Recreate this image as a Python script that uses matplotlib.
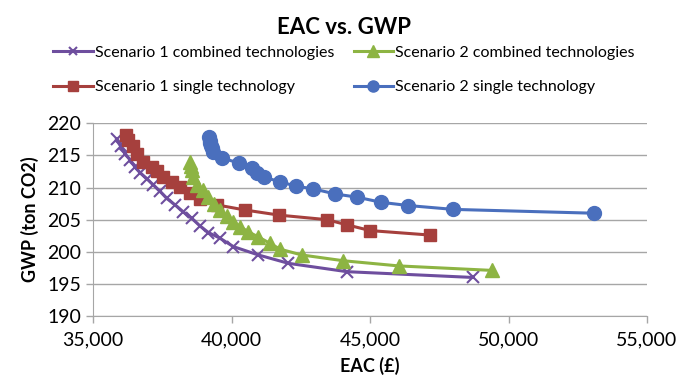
import matplotlib.pyplot as plt
from matplotlib.ticker import FuncFormatter, MultipleLocator

plt.rcParams['font.family'] = ['Lato', 'DejaVu Sans']

# Scenario 1 combined technologies
s1c_eac = [35850, 36000, 36156, 36337, 36517, 36698, 36940, 37178, 37420, 37663,
           37962, 38262, 38566, 38866, 39165, 39588, 40069, 40972, 42056, 44165, 48717]
s1c_gwp = [217.5, 216.4, 215.3, 214.3, 213.2, 212.3, 211.4, 210.4, 209.4, 208.3,
           207.3, 206.2, 205.2, 204.0, 203.0, 202.1, 200.8, 199.5, 198.2, 196.9, 196.0]

# Scenario 2 combined technologies
s2c_eac = [38504, 38530, 38566, 38623, 38746, 38985, 39165, 39371, 39588, 39830,
           40069, 40311, 40611, 40972, 41395, 41756, 42540, 44043, 46030, 49404]
s2c_gwp = [214.0, 213.3, 212.7, 211.7, 210.4, 209.6, 208.6, 207.5, 206.5, 205.5,
           204.7, 203.9, 203.1, 202.3, 201.3, 200.4, 199.5, 198.6, 197.8, 197.1]

# Scenario 1 single technology
s1s_eac = [36192, 36276, 36456, 36578, 36817, 37120, 37301, 37540, 37843, 38143,
           38504, 38866, 39469, 40491, 41731, 43443, 44165, 45007, 47175]
s1s_gwp = [218.2, 217.4, 216.4, 215.3, 214.0, 213.2, 212.5, 211.7, 210.9, 210.1,
           209.1, 208.2, 207.3, 206.5, 205.7, 205.0, 204.2, 203.3, 202.6]

# Scenario 2 single technology
s2s_eac = [39191, 39210, 39227, 39260, 39300, 39335, 39660, 40275, 40744, 40925,
           41178, 41756, 42334, 42948, 43743, 44538, 45405, 46380, 48006, 53100]
s2s_gwp = [217.8, 217.3, 216.9, 216.5, 216.1, 215.5, 214.6, 213.8, 213.0, 212.3,
           211.6, 210.9, 210.2, 209.8, 209.0, 208.5, 207.7, 207.2, 206.6, 206.0]

fig = plt.figure(figsize=(6.88, 3.76), dpi=100)
ax = fig.add_axes([0.1352, 0.1596, 0.8052, 0.5124])

l1, = ax.plot(s1c_eac, s1c_gwp, color='#6E4E9E', lw=2.2, marker='x', ms=8, mew=1.5,
              label='Scenario 1 combined technologies')
l3, = ax.plot(s1s_eac, s1s_gwp, color='#A6403D', lw=2.2, marker='s', ms=9,
              label='Scenario 1 single technology')
l2, = ax.plot(s2c_eac, s2c_gwp, color='#8DB443', lw=2.2, marker='^', ms=10,
              label='Scenario 2 combined technologies')
l4, = ax.plot(s2s_eac, s2s_gwp, color='#4A6FBD', lw=2.2, marker='o', ms=10,
              label='Scenario 2 single technology')

ax.set_xlim(35000, 55000)
ax.set_ylim(190, 220)
ax.xaxis.set_major_locator(MultipleLocator(5000))
ax.yaxis.set_major_locator(MultipleLocator(5))
ax.xaxis.set_major_formatter(FuncFormatter(lambda v, p: f'{int(v):,}'))
ax.grid(axis='y', color='#A6A6A6', lw=1)
ax.set_axisbelow(True)
for s in ['top', 'right']:
    ax.spines[s].set_visible(False)
for s in ['left', 'bottom']:
    ax.spines[s].set_color('#A6A6A6')
ax.tick_params(axis='both', colors='#A6A6A6', labelcolor='black', labelsize=14,
               length=5, width=1)
ax.tick_params(axis='x', pad=6)

ax.set_xlabel('EAC (£)', fontsize=13, fontweight='bold', labelpad=6)
ax.set_ylabel('GWP (ton CO2)', fontsize=13, fontweight='bold', labelpad=6)

fig.text(0.5, 0.928, 'EAC vs. GWP', ha='center', va='center', fontsize=16,
         fontweight='bold')

fig.legend(handles=[l1, l3, l2, l4], ncol=2, loc='center', bbox_to_anchor=(0.5, 0.814),
           frameon=False, fontsize=11.5, handlelength=2.5, handletextpad=0.1,
           columnspacing=1.2, labelspacing=1.3, markerscale=0.8)

fig.savefig('out.png', dpi=100)
